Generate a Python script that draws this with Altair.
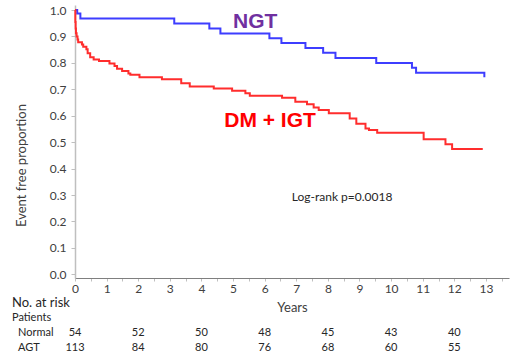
import altair as alt
import pandas as pd

# Kaplan-Meier steps: time in years, event-free proportion
ngt_years = [0.0, 0.07, 0.17, 3.14, 4.25, 4.60, 6.15, 6.53, 7.29, 7.85, 8.24, 9.53, 10.66, 10.79, 12.95]
ngt_surv = [1.0, 0.987, 0.968, 0.949, 0.930, 0.911, 0.893, 0.875, 0.856, 0.838, 0.818, 0.800, 0.782, 0.763, 0.746]

dm_years = [0.0, 0.01, 0.02, 0.03, 0.05, 0.08, 0.10, 0.22, 0.26, 0.36, 0.40, 0.48, 0.59, 0.76,
            1.09, 1.25, 1.33, 1.49, 1.69, 1.75, 2.04, 2.75, 3.36, 3.63, 4.39, 4.97, 5.39, 5.53,
            6.55, 6.97, 7.34, 7.55, 7.71, 8.03, 8.69, 8.90, 9.19, 9.30, 9.56, 11.03, 11.72, 11.93, 12.90]
dm_surv = [1.0, 0.955, 0.93, 0.912, 0.90, 0.888, 0.878, 0.870, 0.861, 0.852, 0.836, 0.821, 0.813, 0.807,
           0.798, 0.788, 0.778, 0.769, 0.760, 0.755, 0.746, 0.738, 0.723, 0.711, 0.703, 0.695, 0.685, 0.676,
           0.668, 0.653, 0.643, 0.631, 0.622, 0.609, 0.590, 0.570, 0.552, 0.546, 0.536, 0.511, 0.492, 0.474, 0.474]

# Numbers at risk
risk_years = [0, 2, 4, 6, 8, 10, 12]
risk_normal = [54, 52, 50, 48, 45, 43, 40]
risk_agt = [113, 84, 80, 76, 68, 60, 55]

# Annotations
group_labels = ["NGT", "DM + IGT"]
label_years = [5.7, 6.17]
label_surv = [0.931, 0.559]
pvalue_text = "Log-rank p=0.0018"
pvalue_pos = [8.45, 0.294]

W, H = 434, 273
LEFT, TOP = 75, 5

surv = pd.concat([
    pd.DataFrame({"years": ngt_years, "surv": ngt_surv, "group": "NGT"}),
    pd.DataFrame({"years": dm_years, "surv": dm_surv, "group": "DM + IGT"}),
])

font = "Lato"
grey = "#404040"

x_scale = alt.Scale(domain=[0, 13.73], nice=False, zero=False)
y_scale = alt.Scale(domain=[-0.014, 1.019], nice=False, zero=False)

# One axis definition per channel, shared by every layer so they merge cleanly
x_axis = alt.Axis(
    values=[i * 0.5 for i in range(28)],
    labelExpr="datum.value % 1 === 0 ? format(datum.value, 'd') : ''",
    labelOverlap=False, labelFlush=False,
    grid=False, domainColor="#7f7f7f", domainWidth=1.2,
    tickColor="#bfbfbf", tickSize=3, labelPadding=2,
    labelFont=font, labelFontSize=12, labelColor=grey,
    title="Years", titleFont=font, titleFontSize=13, titleFontWeight="normal",
    titleColor=grey, titlePadding=7)
y_axis = alt.Axis(
    values=[i / 10 for i in range(11)], format=".1f",
    labelOverlap=False, labelFlush=False,
    grid=False, domainColor="#bfbfbf", domainWidth=1.5,
    tickColor="#bfbfbf", tickSize=4, labelPadding=5,
    labelFont=font, labelFontSize=12, labelColor=grey,
    title="Event free proportion", titleFont=font, titleFontSize=13,
    titleFontWeight="normal", titleColor=grey,
    titleAngle=270, titleX=-54, titleY=160, titleAlign="center", titleBaseline="middle")


def X():
    return alt.X("years:Q", scale=x_scale, axis=x_axis)


def Y():
    return alt.Y("surv:Q", scale=y_scale, axis=y_axis)


curves = alt.Chart(surv).mark_line(interpolate="step-after", strokeWidth=2).encode(
    x=X(), y=Y(),
    color=alt.Color("group:N", scale=alt.Scale(domain=["NGT", "DM + IGT"],
                                               range=["#3d3dff", "#ff2d2d"]), legend=None),
)

labels_df = pd.DataFrame({"years": label_years, "surv": label_surv, "text": group_labels})
group_text = alt.Chart(labels_df).mark_text(
    font="Liberation Sans", fontSize=21, fontWeight="bold", align="center", baseline="alphabetic"
).encode(
    x=X(), y=Y(), text="text:N",
    color=alt.Color("text:N", scale=alt.Scale(domain=group_labels, range=["#7030a0", "#ff0000"]), legend=None),
)

p_df = pd.DataFrame({"years": [pvalue_pos[0]], "surv": [pvalue_pos[1]], "text": [pvalue_text]})
p_text = alt.Chart(p_df).mark_text(font=font, fontSize=12, color="#262626",
                                   align="center", baseline="middle").encode(
    x=X(), y=Y(), text="text:N")

risk_df = pd.DataFrame({"years": risk_years, "normal": risk_normal, "agt": risk_agt})
risk_normal_text = alt.Chart(risk_df).mark_text(font=font, fontSize=11, color="#262626",
                                                align="center", baseline="middle").encode(
    x=X(), y=alt.value(333 - TOP), text="normal:Q")
risk_agt_text = alt.Chart(risk_df).mark_text(font=font, fontSize=11, color="#262626",
                                             align="center", baseline="middle").encode(
    x=X(), y=alt.value(347.5 - TOP), text="agt:Q")

# Row headers of the at-risk table
header_text = ["No. at risk", "Patients", "Normal", "AGT"]
header_x = [12, 12, 18, 18]
header_y = [302.5, 317.5, 333, 347.5]
header_size = [13, 11, 11, 11]
headers = alt.layer(*[
    alt.Chart(pd.DataFrame({"t": [t]})).mark_text(
        font=font, fontSize=s, color="#262626", align="left", baseline="middle"
    ).encode(x=alt.value(hx - LEFT), y=alt.value(hy - TOP), text="t:N")
    for t, hx, hy, s in zip(header_text, header_x, header_y, header_size)
])

chart = alt.layer(curves, group_text, p_text, risk_normal_text, risk_agt_text, headers).resolve_scale(
    color="independent"
).properties(
    width=W, height=H,
    autosize=alt.AutoSizeParams(type="none"),
    padding={"left": LEFT, "top": TOP, "right": 514 - LEFT - W, "bottom": 354 - TOP - H},
    background="white",
).configure_view(stroke=None)

chart.save("out.html", embed_options={"renderer": "svg", "actions": False})
